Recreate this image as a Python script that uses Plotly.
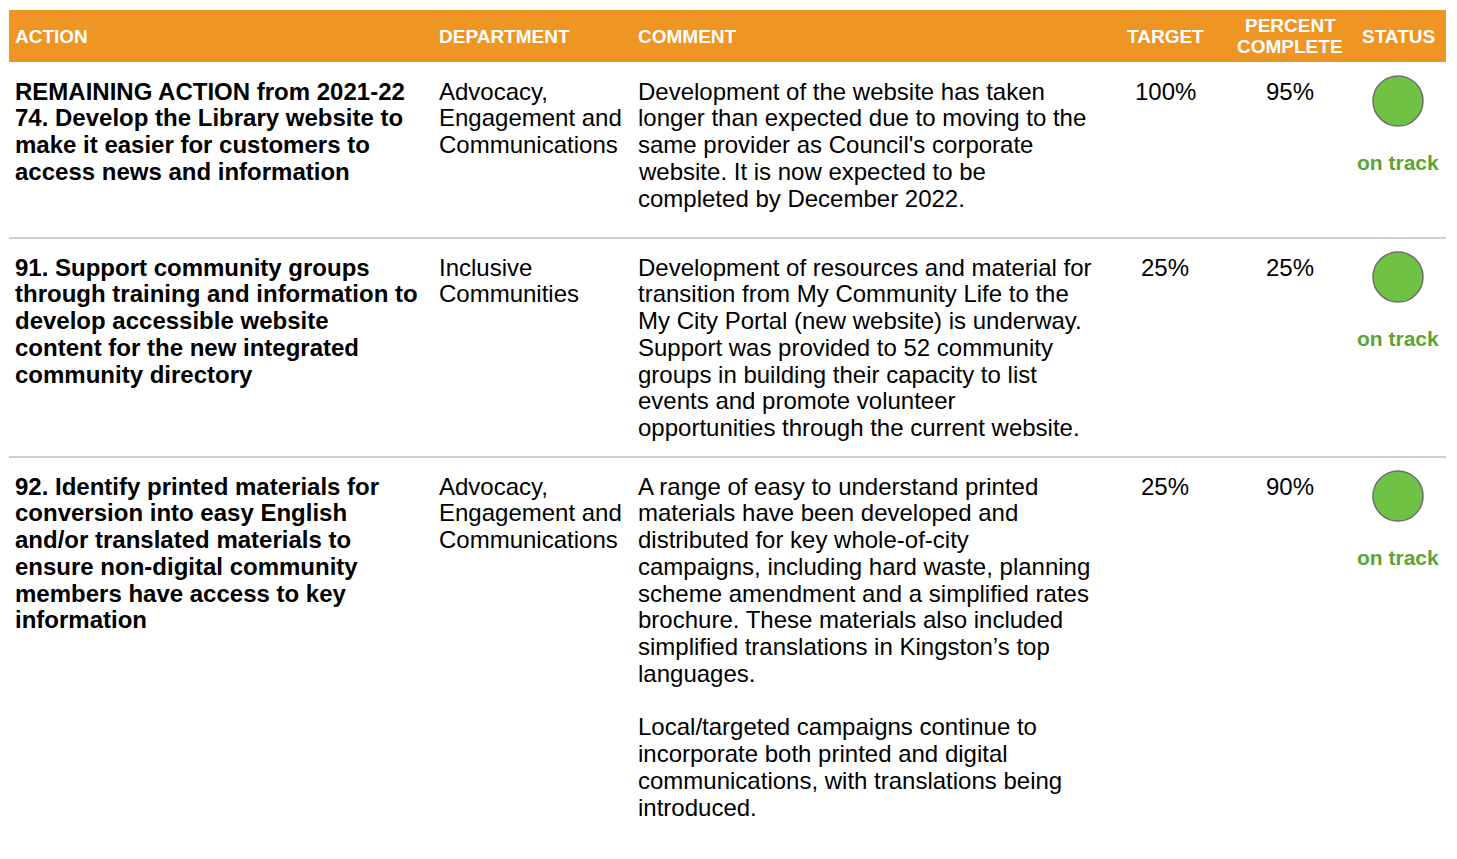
import plotly.graph_objects as go

# ---------------- data ----------------
headers = ["ACTION", "DEPARTMENT", "COMMENT", "TARGET", "PERCENT\nCOMPLETE", "STATUS"]

actions = [
    ["REMAINING ACTION from 2021-22", "74. Develop the Library website to",
     "make it easier for customers to", "access news and information"],
    ["91. Support community groups", "through training and information to",
     "develop accessible website", "content for the new integrated", "community directory"],
    ["92. Identify printed materials for", "conversion into easy English",
     "and/or translated materials to", "ensure non-digital community",
     "members have access to key", "information"],
]

departments = [
    ["Advocacy,", "Engagement and", "Communications"],
    ["Inclusive", "Communities"],
    ["Advocacy,", "Engagement and", "Communications"],
]

comments = [
    ["Development of the website has taken", "longer than expected due to moving to the",
     "same provider as Council's corporate", "website. It is now expected to be",
     "completed by December 2022."],
    ["Development of resources and material for", "transition from My Community Life to the",
     "My City Portal (new website) is underway.", "Support was provided to 52 community",
     "groups in building their capacity to list", "events and promote volunteer",
     "opportunities through the current website."],
    ["A range of easy to understand printed", "materials have been developed and",
     "distributed for key whole-of-city", "campaigns, including hard waste, planning",
     "scheme amendment and a simplified rates", "brochure. These materials also included",
     "simplified translations in Kingston\u2019s top", "languages.", "",
     "Local/targeted campaigns continue to", "incorporate both printed and digital",
     "communications, with translations being", "introduced."],
]

targets = [100, 25, 25]
percent_complete = [95, 25, 90]
statuses = ["on track", "on track", "on track"]

# ---------------- layout constants ----------------
W, H = 1457, 859
OFF = 8  # page body margin
FONT = "Liberation Sans, Arial, sans-serif"
ORANGE = "#EF9524"
GREEN_FILL = "#70C244"
GREEN_TEXT = "#5AA537"
col_left = [13, 437, 636]
col_center = [1165, 1290, 1398]
header_top, header_bottom = 10, 62
row_tops = [62, 238, 457]
line_h = 26.75
body_size = 24

fig = go.Figure()
annotations = []
shapes = []

# header bar
shapes.append(dict(type="rect", xref="x", yref="y", x0=9, x1=1446, y0=header_top, y1=header_bottom,
                   fillcolor=ORANGE, line=dict(width=0), layer="below"))

def add_text(x, y, text, size, color="#000000", bold=False, anchor="left"):
    t = f"<b>{text}</b>" if bold else text
    annotations.append(dict(x=x, y=y, xref="x", yref="y", text=t, showarrow=False,
                            xanchor=anchor, yanchor="middle",
                            font=dict(family=FONT, size=size, color=color)))

header_x = col_left + col_center
for i, h in enumerate(headers):
    lines = h.split("\n")
    anchor = "left" if i < 3 else "center"
    if len(lines) == 1:
        add_text(header_x[i], 36, lines[0], 19, "#FFFFFF", True, anchor)
    else:
        for k, ln in enumerate(lines):
            add_text(header_x[i], 25 + k * 21, ln, 19, "#FFFFFF", True, anchor)

# separators
for rt in row_tops[1:]:
    shapes.append(dict(type="line", xref="x", yref="y", x0=9, x1=1446, y0=rt, y1=rt,
                       line=dict(color="#A0A0A0", width=1)))

# body
for r in range(len(actions)):
    y0 = row_tops[r] + 29
    for k, ln in enumerate(actions[r]):
        add_text(col_left[0], y0 + k * line_h, ln, body_size, bold=True)
    for k, ln in enumerate(departments[r]):
        add_text(col_left[1], y0 + k * line_h, ln, body_size)
    for k, ln in enumerate(comments[r]):
        if ln:
            add_text(col_left[2], y0 + k * line_h, ln, body_size)
    add_text(col_center[0], y0, f"{targets[r]}%", body_size, anchor="center")
    add_text(col_center[1], y0, f"{percent_complete[r]}%", body_size, anchor="center")
    add_text(col_center[2], row_tops[r] + 100, statuses[r], 21, GREEN_TEXT, True, "center")

fig.add_trace(go.Scatter(
    x=[col_center[2]] * len(statuses), y=[rt + 39 for rt in row_tops],
    mode="markers", hoverinfo="skip",
    marker=dict(size=50, color=GREEN_FILL, line=dict(color="#6E6E6E", width=1.5)),
))

fig.update_layout(
    width=W, height=H, margin=dict(l=0, r=0, t=0, b=0),
    paper_bgcolor="white", plot_bgcolor="white", showlegend=False,
    xaxis=dict(range=[OFF, W + OFF], visible=False, fixedrange=True),
    yaxis=dict(range=[H + OFF, OFF], visible=False, fixedrange=True),
    annotations=annotations, shapes=shapes,
)

fig.write_html("out.html")
